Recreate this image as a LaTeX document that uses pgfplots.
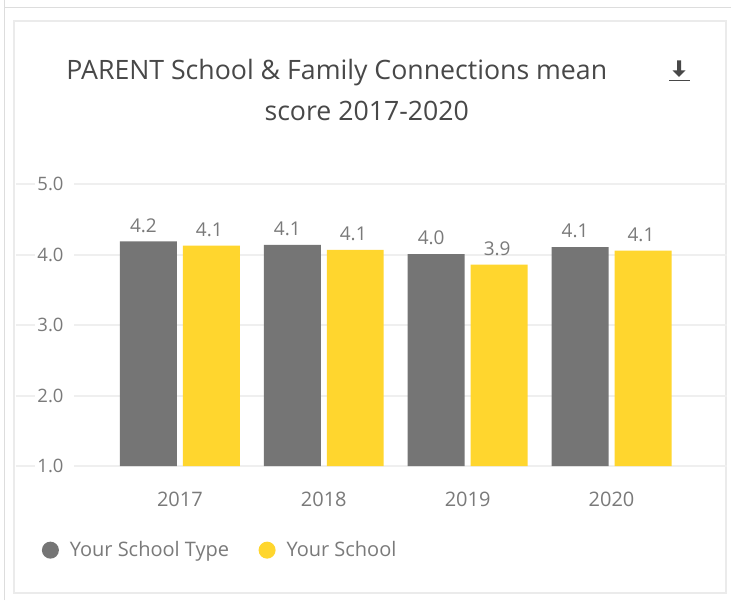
\documentclass[border=0pt]{standalone}
\usepackage{pgfplots}
\pgfplotsset{compat=1.18}
\usepackage{fontspec}
\setmainfont{Open Sans}
\definecolor{gbar}{HTML}{757575}
\definecolor{ybar}{HTML}{FFD62E}
\definecolor{gridc}{HTML}{EFEFEF}
\definecolor{txt}{HTML}{7A7A7A}
\definecolor{ttl}{HTML}{484848}
\definecolor{cardl}{HTML}{EBEBEB}
\definecolor{outl}{HTML}{DDDDDD}
\begin{document}
\begin{tikzpicture}[x=1pt,y=1pt]
\path[fill=white] (0,0) rectangle (731,600);
\draw[outl,line width=1pt] (5,600) -- (5,592.5) (5,592.5) -- (731,592.5);
\draw[outl,line width=1pt] (5,0) -- (5,592.5);
\draw[cardl,line width=2pt,fill=white] (14.5,7) rectangle (726.5,579);
\begin{axis}[
  at={(16pt,134pt)},anchor=south west,
  scale only axis,width=711pt,height=282pt,
  xmin=-1.139,xmax=3.799,ymin=1,ymax=5,
  axis line style={draw=none},
  major tick length=0pt,
  tick style={draw=none},
  ytick={1,2,3,4,5},
  xtick={0,1,2,3},
  xticklabels={2017,2018,2019,2020},
  ymajorgrids,
  grid style={gridc,line width=1.8pt},
  /pgf/number format/assume math mode=true,
  /pgf/number format/fixed,/pgf/number format/fixed zerofill,/pgf/number format/precision=1,
  tick label style={font=\fontsize{19}{22}\selectfont,text=txt},
  yticklabel style={font=\fontsize{18.5}{22}\selectfont,anchor=center,xshift=39pt,fill=white,inner xsep=2pt,inner ysep=1pt,text width=35pt,align=left},
  xticklabel style={font=\fontsize{20}{22}\selectfont,anchor=center,yshift=-33pt,/pgf/number format/1000 sep={}},
  ybar=0pt,bar width=57pt,
  nodes near coords,
  nodes near coords style={font=\fontsize{19}{22}\selectfont,text=txt,/pgf/number format/assume math mode=true,
    /pgf/number format/fixed,/pgf/number format/fixed zerofill,/pgf/number format/precision=1,yshift=5.5pt},
  clip=false,
  legend columns=2,
  legend style={at={(0.032,-0.298)},anchor=west,draw=none,fill=none,
    font=\fontsize{20}{22}\selectfont,text=txt,
    /tikz/every even column/.append style={column sep=27.5pt},
    /tikz/column 1/.style={column sep=9pt},/tikz/column 3/.style={column sep=9pt}},
  legend image code/.code={\fill[#1] (0,0) circle (8.5pt);},
]
\addplot[fill=gbar,draw=none,bar shift=-31.5pt,nodes near coords style={xshift=-5pt}] coordinates {(0,4.19) (1,4.14) (2,4.01) (3,4.11)};
\addplot[fill=ybar,draw=none,bar shift=31.5pt,nodes near coords style={xshift=-2pt}] coordinates {(0,4.13) (1,4.07) (2,3.86) (3,4.06)};
\legend{Your School Type,Your School}
\end{axis}
\node[text=ttl,font=\fontsize{26.7}{30}\selectfont,anchor=base] at (337,521) {PARENT School \& Family Connections mean};
\node[text=ttl,font=\fontsize{26.7}{30}\selectfont,anchor=base] at (367,480) {score 2017-2020};
\fill[ttl] (677.5,540) rectangle (681.5,530) -- (686,530) -- (679.5,523.5) -- (673,530) -- (677.5,530) -- cycle;
\fill[ttl] (669,520) rectangle (690,523-2.5);
\end{tikzpicture}
\end{document}
